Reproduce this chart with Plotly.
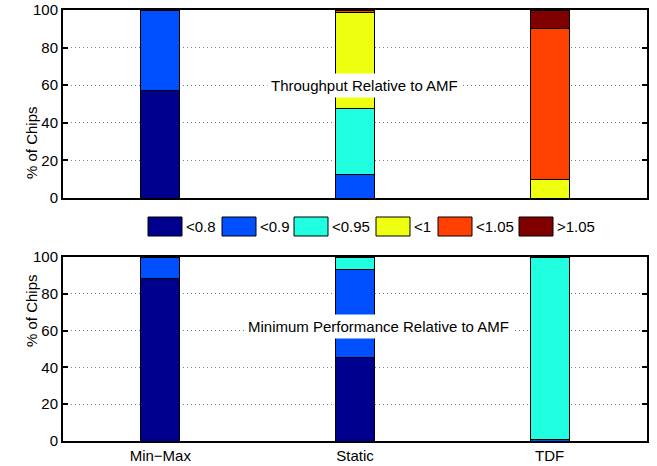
import plotly.graph_objects as go
from plotly.subplots import make_subplots

# categories and bins
schemes = ["Min\u2212Max", "Static", "TDF"]
bins = ["<0.8", "<0.9", "<0.95", "<1", "<1.05", ">1.05"]
colors = ["#00008f", "#0050ff", "#20ffdf", "#efff10", "#ff4000", "#800000"]

# Throughput relative to AMF (% of chips)
tp_lt080 = [57, 0, 0]
tp_lt090 = [43, 12.3, 0]
tp_lt095 = [0, 35.4, 0]
tp_lt100 = [0, 50.8, 9.7]
tp_lt105 = [0, 1.5, 80.6]
tp_gt105 = [0, 0, 9.7]

# Minimum performance relative to AMF (% of chips)
mp_lt080 = [88.5, 45.2, 0]
mp_lt090 = [11.5, 48.1, 1]
mp_lt095 = [0, 6.7, 99]
mp_lt100 = [0, 0, 0]
mp_lt105 = [0, 0, 0]
mp_gt105 = [0, 0, 0]

throughput = [tp_lt080, tp_lt090, tp_lt095, tp_lt100, tp_lt105, tp_gt105]
minperf = [mp_lt080, mp_lt090, mp_lt095, mp_lt100, mp_lt105, mp_gt105]

W, H = 657, 466
FONT = "Liberation Sans, Arial, sans-serif"
FS = 15

fig = make_subplots(rows=2, cols=1)

for row, series in ((1, throughput), (2, minperf)):
    for name, col, vals in zip(bins, colors, series):
        fig.add_trace(go.Bar(
            x=[1, 2, 3],
            y=[v if v else None for v in vals],
            name=name,
            width=0.2,
            marker=dict(color=col, line=dict(color="black", width=1)),
            showlegend=False,
        ), row=row, col=1)

fig.update_layout(barmode="stack")

# px -> paper helpers
def px_x(p):
    return p / W

def px_y(p):
    return 1 - p / H

xdom = [px_x(63), px_x(647)]
fig.update_xaxes(domain=xdom, range=[0.5, 3.5], tickvals=[1, 2, 3],
                 ticktext=schemes, showgrid=False, zeroline=False,
                 showline=True, linewidth=2, linecolor="black", mirror=True,
                 ticks="", automargin=False, ticklabeloverflow="allow",
                 tickfont=dict(family=FONT, size=FS, color="black"))
fig.update_xaxes(showticklabels=False, row=1, col=1)
fig.update_yaxes(range=[0, 100], tickvals=[0, 20, 40, 60, 80, 100],
                 showgrid=True, gridcolor="#808080", griddash="1px,3px", gridwidth=1,
                 zeroline=False, showline=True, linewidth=2, linecolor="black",
                 mirror="ticks", ticks="inside", ticklen=5, tickwidth=1.5,
                 tickcolor="black", automargin=False, ticklabeloverflow="allow",
                 tickfont=dict(family=FONT, size=FS, color="black"))
fig.update_yaxes(domain=[px_y(198), px_y(10)], row=1, col=1)
fig.update_yaxes(domain=[px_y(441), px_y(257)], row=2, col=1)

annotations = []
# panel captions
annotations.append(dict(xref="x", yref="y", x=2.05, y=60,
                        text="Throughput Relative to AMF", showarrow=False,
                        bgcolor="white", borderpad=3,
                        font=dict(family=FONT, size=FS, color="black")))
annotations.append(dict(xref="x2", yref="y2", x=2.12, y=62,
                        text="Minimum Performance Relative to AMF", showarrow=False,
                        bgcolor="white", borderpad=3,
                        font=dict(family=FONT, size=FS, color="black")))
# y titles
for yc in ((10 + 198) / 2, (257 + 441) / 2):
    annotations.append(dict(xref="paper", yref="paper", x=px_x(21), y=px_y(yc),
                            text="% of Chips", textangle=-90, showarrow=False,
                            font=dict(family=FONT, size=FS, color="black")))

# hand-made legend between the panels
shapes = []
legend_left = [148, 222, 294, 376, 438, 519]
for left, name, col in zip(legend_left, bins, colors):
    shapes.append(dict(type="rect", xref="paper", yref="paper",
                       x0=px_x(left), x1=px_x(left + 34),
                       y0=px_y(236), y1=px_y(217),
                       fillcolor=col, line=dict(color="black", width=1)))
    annotations.append(dict(xref="paper", yref="paper",
                            x=px_x(left + 36), y=px_y(226.5),
                            xanchor="left", yanchor="middle",
                            text=name, showarrow=False,
                            font=dict(family=FONT, size=FS, color="black")))

fig.update_layout(
    width=W, height=H,
    margin=dict(l=0, r=0, t=0, b=0),
    paper_bgcolor="white", plot_bgcolor="white",
    annotations=annotations, shapes=shapes,
    showlegend=False,
)

# drop the default 8px page margin so the figure fills the window
fig.write_html("out.html", config={"displayModeBar": False},
               post_script="document.body.style.margin = '0';")
